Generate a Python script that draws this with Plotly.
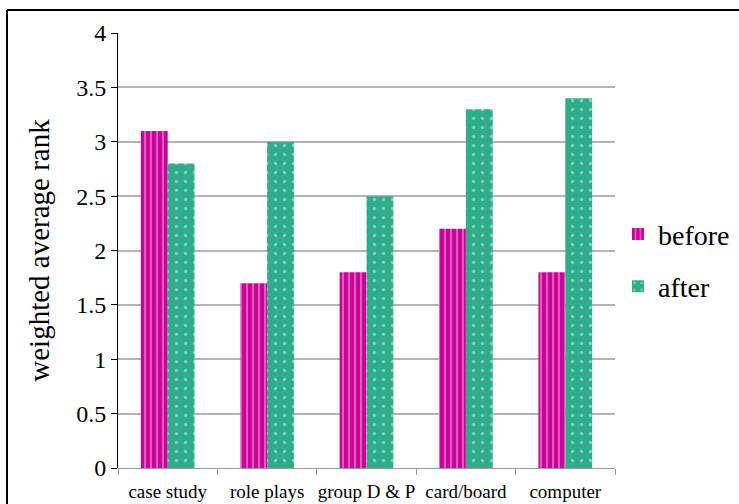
import plotly.graph_objects as go

categories = ["case study", "role plays", "group D & P", "card/board", "computer"]
before = [3.1, 1.7, 1.8, 2.2, 1.8]
after = [2.8, 3.0, 2.5, 3.3, 3.4]
y_ticks = [0, 0.5, 1, 1.5, 2, 2.5, 3, 3.5, 4]
y_tick_text = ["0", "0.5", "1", "1.5", "2", "2.5", "3", "3.5", "4"]

SERIF = "Liberation Serif, Times New Roman, serif"
MAGENTA = "#CC0099"
TEAL = "#2EAE88"

fig = go.Figure()
fig.add_trace(go.Bar(
    name="before", x=categories, y=before, legendgroup="b",
    marker=dict(color=MAGENTA, line=dict(width=0),
                pattern=dict(shape="|", fgcolor="#F4B8E8", bgcolor=MAGENTA,
                             size=6, solidity=0.35, fillmode="overlay")),
))
fig.add_trace(go.Bar(
    name="after", x=categories, y=after, legendgroup="a",
    marker=dict(color=TEAL, line=dict(width=0),
                pattern=dict(shape=".", fgcolor="#CFEFE3", bgcolor=TEAL,
                             size=9, solidity=0.12, fillmode="overlay")),
))

L, R, T, B = 118, 124, 33, 36
W, H = 739, 504
pw, ph = W - L - R, H - T - B
bx = (7 - L) / pw
by = (H - B - 10) / ph

fig.update_layout(
    width=W, height=H,
    margin=dict(l=L, r=R, t=T, b=B, pad=0, autoexpand=False),
    paper_bgcolor="white", plot_bgcolor="white",
    barmode="group", bargap=0.46, bargroupgap=0,
    font=dict(family=SERIF, color="black"),
    xaxis=dict(
        showline=True, linecolor="#9a9a9a", linewidth=1,
        ticks="outside", tickcolor="#9a9a9a", ticklen=6,
        tickson="boundaries", showgrid=False, tickangle=0,
        ticklabelstandoff=6,
        tickfont=dict(size=19, family=SERIF),
    ),
    yaxis=dict(
        range=[0, 4], tickvals=y_ticks, ticktext=y_tick_text,
        showline=True, linecolor="black", linewidth=1,
        ticks="outside", tickcolor="black", ticklen=6,
        showgrid=True, gridcolor="#b4b4b4", gridwidth=1.5,
        zeroline=False,
        tickfont=dict(size=24, family=SERIF),
        title=dict(text="weighted average rank", font=dict(size=29, family=SERIF),
                   standoff=18),
    ),
    legend=dict(
        x=1.006, y=0.595, xanchor="left", yanchor="top",
        font=dict(size=28, family=SERIF), traceorder="grouped",
        tracegroupgap=13, bgcolor="rgba(0,0,0,0)",
    ),
    shapes=[
        dict(type="line", xref="paper", yref="paper", x0=bx, x1=1.6, y0=by, y1=by,
             line=dict(color="black", width=2)),
        dict(type="line", xref="paper", yref="paper", x0=bx, x1=bx, y0=by, y1=-0.2,
             line=dict(color="black", width=2)),
    ],
)

fig.write_html("out.html")
